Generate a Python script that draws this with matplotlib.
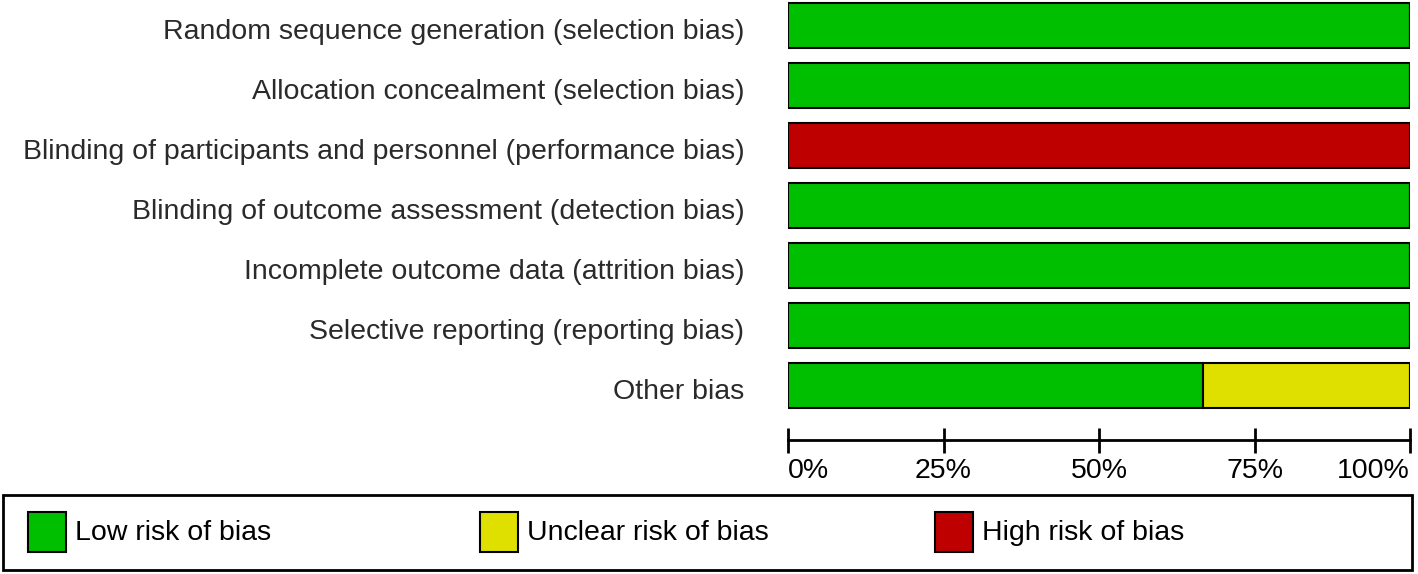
import matplotlib.pyplot as plt
from matplotlib.patches import Rectangle

plt.rcParams['font.family'] = ['Liberation Sans', 'DejaVu Sans']

domains = ['Random sequence generation (selection bias)',
           'Allocation concealment (selection bias)',
           'Blinding of participants and personnel (performance bias)',
           'Blinding of outcome assessment (detection bias)',
           'Incomplete outcome data (attrition bias)',
           'Selective reporting (reporting bias)',
           'Other bias']
low = [100, 100, 0, 100, 100, 100, 66.7]
unclear = [0, 0, 0, 0, 0, 0, 33.3]
high = [0, 0, 100, 0, 0, 0, 0]

legend_labels = ['Low risk of bias', 'Unclear risk of bias', 'High risk of bias']
colors = ['#00BF00', '#E0E000', '#BF0000']
ticks = [0, 25, 50, 75, 100]
tick_labels = ['0%', '25%', '50%', '75%', '100%']

W, H = 1418, 574
fig = plt.figure(figsize=(W / 100, H / 100), dpi=100)
ax = fig.add_axes([788 / W, 1 - 440 / H, (1410 - 788) / W, 440 / H])

y = list(range(len(domains)))
left = [0] * len(domains)
for vals, c in zip([low, unclear, high], colors):
    ax.barh(y, vals, left=left, height=0.75, color=c, edgecolor='black', linewidth=1.5)
    left = [a + b for a, b in zip(left, vals)]

ax.set_xlim(0, 100)
ax.set_ylim(6.908, -0.425)
for s in ['top', 'left', 'right']:
    ax.spines[s].set_visible(False)
ax.spines['bottom'].set_linewidth(2)
ax.set_yticks([])
ax.set_xticks(ticks)
ax.set_xticklabels(tick_labels, fontsize=20.5)
ax.tick_params(axis='x', direction='inout', length=18, width=2, pad=4)
xt = ax.get_xticklabels()
xt[0].set_ha('left')
xt[-1].set_ha('right')

# labels sit a little below the bar centres in the original
for yi, name in zip(y, domains):
    ax.text(-0.07, yi + 0.11, name, transform=ax.get_yaxis_transform(),
            ha='right', va='center', fontsize=20.5, color='#2a2a2a')

# legend box
fig.patches.append(Rectangle((3 / W, 1 - 570 / H), 1409 / W, 75 / H,
                             transform=fig.transFigure, fill=False,
                             edgecolor='black', linewidth=2))
for x0, lab, c in zip([28, 480, 935], legend_labels, colors):
    fig.patches.append(Rectangle((x0 / W, 1 - 552 / H), 38 / W, 40 / H,
                                 transform=fig.transFigure, facecolor=c,
                                 edgecolor='black', linewidth=1.5))
    fig.text((x0 + 47) / W, 1 - 533 / H, lab, ha='left', va='center',
             fontsize=20.5, color='black')

fig.savefig('out.png', dpi=100)
